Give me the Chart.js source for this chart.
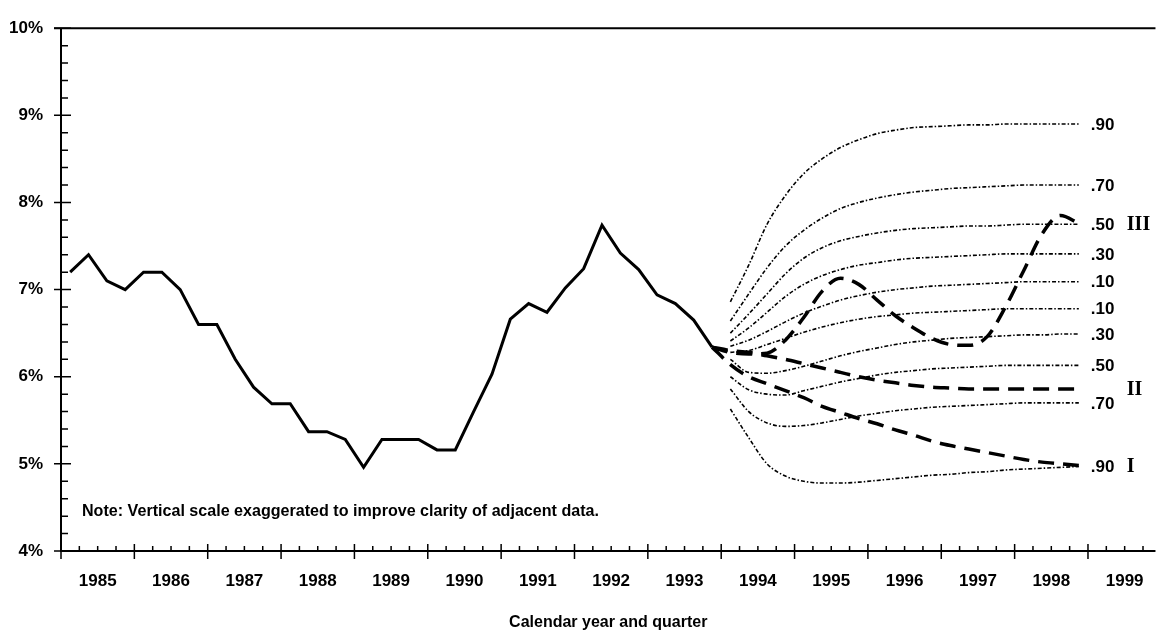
<!DOCTYPE html>
<html>
<head>
<meta charset="utf-8">
<script src="https://cdn.jsdelivr.net/npm/chart.js@4/dist/chart.umd.min.js"></script>
<style>
  html, body { margin: 0; padding: 0; background: #fff; }
</style>
</head>
<body>
<canvas id="chart" width="1163" height="634"></canvas>
<script>
// ---- data (percent, quarterly) ----
var yearLabels = ['1985', '1986', '1987', '1988', '1989', '1990', '1991', '1992', '1993', '1994', '1995', '1996', '1997', '1998', '1999'];
var yTickLabels = ['4%', '5%', '6%', '7%', '8%', '9%', '10%'];

// history 1985Q1 .. 1993Q4
var histRate = [7.2, 7.4, 7.1, 7.0, 7.2, 7.2, 7.0, 6.6, 6.6, 6.2, 5.88, 5.69,
                5.69, 5.37, 5.37, 5.28, 4.96, 5.28, 5.28, 5.28, 5.16, 5.16, 5.6, 6.03,
                6.66, 6.84, 6.74, 7.02, 7.24, 7.74, 7.42, 7.23, 6.94, 6.84, 6.65, 6.34];

// fractile fan 1994Q1 .. 1998Q4, top to bottom
var fan90hi = [6.86, 7.28, 7.75, 8.08, 8.33, 8.50, 8.63, 8.72, 8.79, 8.83, 8.86, 8.87, 8.88, 8.89, 8.89, 8.9, 8.9, 8.9, 8.9, 8.9];
var fan70hi = [6.64, 6.95, 7.25, 7.5, 7.68, 7.82, 7.93, 8.0, 8.05, 8.09, 8.12, 8.14, 8.16, 8.17, 8.18, 8.19, 8.2, 8.2, 8.2, 8.2];
var fan50hi = [6.5, 6.72, 6.95, 7.18, 7.36, 7.48, 7.56, 7.61, 7.65, 7.68, 7.70, 7.71, 7.72, 7.73, 7.73, 7.74, 7.75, 7.75, 7.75, 7.75];
var fan30hi = [6.41, 6.56, 6.74, 6.92, 7.06, 7.16, 7.23, 7.28, 7.31, 7.34, 7.36, 7.37, 7.38, 7.39, 7.40, 7.41, 7.41, 7.41, 7.41, 7.41];
var fan10hi = [6.35, 6.42, 6.52, 6.63, 6.73, 6.81, 6.88, 6.93, 6.97, 7.0, 7.02, 7.04, 7.05, 7.06, 7.07, 7.08, 7.09, 7.09, 7.09, 7.09];
var fan10lo = [6.28, 6.3, 6.37, 6.44, 6.51, 6.57, 6.62, 6.66, 6.69, 6.71, 6.73, 6.74, 6.75, 6.76, 6.77, 6.78, 6.78, 6.78, 6.78, 6.78];
var fan30lo = [6.2, 6.05, 6.04, 6.07, 6.12, 6.18, 6.24, 6.29, 6.33, 6.37, 6.40, 6.42, 6.44, 6.45, 6.46, 6.47, 6.48, 6.48, 6.49, 6.49];
var fan50lo = [6.0, 5.85, 5.8, 5.79, 5.84, 5.89, 5.94, 5.98, 6.02, 6.05, 6.07, 6.09, 6.10, 6.11, 6.12, 6.13, 6.13, 6.13, 6.13, 6.13];
var fan70lo = [5.86, 5.6, 5.47, 5.43, 5.44, 5.47, 5.51, 5.55, 5.58, 5.61, 5.63, 5.65, 5.66, 5.67, 5.68, 5.69, 5.70, 5.70, 5.70, 5.70];
var fan90lo = [5.63, 5.3, 5.0, 4.86, 4.8, 4.78, 4.78, 4.79, 4.81, 4.83, 4.85, 4.87, 4.88, 4.90, 4.91, 4.93, 4.94, 4.95, 4.96, 4.97];
var fanLabels = ['.90', '.70', '.50', '.30', '.10', '.10', '.30', '.50', '.70', '.90'];

// scenarios 1994Q1 .. 1998Q4 (joined to last history point)
var scenarioI   = [6.14, 6.0, 5.92, 5.84, 5.76, 5.66, 5.59, 5.52, 5.46, 5.39, 5.33, 5.26, 5.21, 5.17, 5.13, 5.09, 5.05, 5.02, 5.0, 4.98];
var scenarioII  = [6.3, 6.28, 6.24, 6.2, 6.15, 6.1, 6.05, 6.0, 5.96, 5.93, 5.9, 5.88, 5.87, 5.86, 5.86, 5.86, 5.86, 5.86, 5.86, 5.86];
var scenarioIII = [6.28, 6.26, 6.27, 6.42, 6.68, 6.98, 7.13, 7.06, 6.88, 6.7, 6.56, 6.44, 6.37, 6.36, 6.46, 6.8, 7.22, 7.64, 7.85, 7.76];
var scenarioLabels = ['I', 'II', 'III'];

var noteText = 'Note: Vertical scale exaggerated to improve clarity of adjacent data.';
var xTitle = 'Calendar year and quarter';

var SANS = "'Liberation Sans', Arial, sans-serif";
var SERIF = "'Liberation Serif', 'DejaVu Serif', serif";

// quarter midpoint on a year axis
function quarterPoints(startYear, values) {
    var pts = [];
    for (var i = 0; i < values.length; i++) {
        pts.push({x: startYear + (i + 0.5) / 4, y: values[i]});
    }
    return pts;
}

function scenarioPoints(values) {
    var pts = [{x: 1993 + 3.5 / 4, y: histRate[histRate.length - 1]}];
    return pts.concat(quarterPoints(1994, values));
}

var fans = [fan90hi, fan70hi, fan50hi, fan30hi, fan10hi, fan10lo, fan30lo, fan50lo, fan70lo, fan90lo];
var datasets = [];
fans.forEach(function(f, j) {
    datasets.push({
        label: 'fan' + j,
        data: quarterPoints(1994, f),
        borderColor: '#000',
        borderWidth: 1.6,
        borderDash: [4, 2, 1.5, 2],
        pointRadius: 0,
        cubicInterpolationMode: 'monotone',
        fill: false
    });
});
[scenarioI, scenarioII, scenarioIII].forEach(function(s, j) {
    datasets.push({
        label: 'scenario ' + scenarioLabels[j],
        data: scenarioPoints(s),
        borderColor: '#000',
        borderWidth: 3.5,
        borderDash: [16, 9],
        pointRadius: 0,
        cubicInterpolationMode: 'monotone',
        fill: false
    });
});
datasets.push({
    label: 'history',
    data: quarterPoints(1985, histRate),
    borderColor: '#000',
    borderWidth: 3,
    pointRadius: 0,
    tension: 0,
    fill: false
});

// axes, tick marks, right-hand labels and the note
var decorPlugin = {
    id: 'decor',
    afterDatasetsDraw: function(chart) {
        var ctx = chart.ctx;
        var area = chart.chartArea;
        var xs = chart.scales.x, ys = chart.scales.y;
        ctx.save();
        ctx.strokeStyle = '#000';
        ctx.lineWidth = 2;
        ctx.beginPath();
        ctx.moveTo(area.left, area.top);
        ctx.lineTo(area.left, area.bottom);
        ctx.lineTo(area.right, area.bottom);
        ctx.moveTo(area.left - 7, area.top);
        ctx.lineTo(area.right, area.top);
        ctx.stroke();

        ctx.lineWidth = 1.5;
        ctx.beginPath();
        ys.ticks.forEach(function(t) {
            var py = ys.getPixelForValue(t.value);
            var major = Math.abs(t.value - Math.round(t.value)) < 0.001;
            ctx.moveTo(area.left - (major ? 7 : 0), py);
            ctx.lineTo(area.left + (major ? 10 : 7), py);
        });
        xs.ticks.forEach(function(t) {
            var px = xs.getPixelForValue(t.value);
            var major = Math.abs(t.value - Math.round(t.value)) < 0.001;
            ctx.moveTo(px, area.bottom - (major ? 7 : 5));
            ctx.lineTo(px, area.bottom + (major ? 8 : 0));
        });
        ctx.stroke();

        // fractile labels at the end of each fan line
        ctx.fillStyle = '#000';
        ctx.textBaseline = 'middle';
        ctx.textAlign = 'left';
        ctx.font = 'bold 17px ' + SANS;
        for (var j = 0; j < fans.length; j++) {
            var pts = chart.getDatasetMeta(j).data;
            var last = pts[pts.length - 1];
            ctx.fillText(fanLabels[j], last.x + 12, last.y + 1);
        }
        // scenario numerals
        ctx.font = 'bold 20px ' + SERIF;
        for (var k = 0; k < 3; k++) {
            var sp = chart.getDatasetMeta(fans.length + k).data;
            var end = sp[sp.length - 1];
            ctx.fillText(scenarioLabels[k], end.x + 48, end.y + 1);
        }

        // note, fitted to its width in the original
        ctx.font = 'bold 16px ' + SANS;
        var w = ctx.measureText(noteText).width;
        var size = 16 * 518 / w;
        ctx.font = 'bold ' + size.toFixed(1) + 'px ' + SANS;
        ctx.fillText(noteText, area.left + 21, ys.getPixelForValue(4.45));
        ctx.restore();
    }
};

Chart.defaults.color = '#000';
Chart.defaults.font.family = SANS;
Chart.defaults.font.weight = 'bold';

var chart = new Chart(document.getElementById('chart').getContext('2d'), {
    type: 'line',
    data: {datasets: datasets},
    options: {
        responsive: false,
        animation: false,
        layout: {padding: {top: 25, right: 0, bottom: 0, left: 0}},
        plugins: {legend: {display: false}, tooltip: {enabled: false}},
        scales: {
            x: {
                type: 'linear',
                min: 1985,
                max: 1999.92,
                grid: {display: false, drawTicks: false},
                border: {display: false},
                ticks: {
                    stepSize: 0.25,
                    includeBounds: false,
                    autoSkip: false,
                    maxRotation: 0,
                    minRotation: 0,
                    padding: 20,
                    font: {size: 17, weight: 'bold'},
                    callback: function(value) {
                        var yr = Math.floor(value + 0.001);
                        if (Math.abs(value - yr - 0.5) < 0.01) {
                            return yearLabels[yr - 1985] || '';
                        }
                        return '';
                    }
                },
                title: {display: true, text: xTitle, font: {size: 16, weight: 'bold'}, padding: {top: 0, bottom: 2}},
                afterFit: function(scale) { scale.height = 83; }
            },
            y: {
                min: 4,
                max: 10,
                grid: {display: false, drawTicks: false},
                border: {display: false},
                ticks: {
                    stepSize: 0.2,
                    autoSkip: false,
                    padding: 18,
                    font: {size: 17, weight: 'bold'},
                    callback: function(value) {
                        if (Math.abs(value - Math.round(value)) < 0.001) {
                            return yTickLabels[Math.round(value) - 4];
                        }
                        return '';
                    }
                },
                afterFit: function(scale) { scale.width = 61; }
            }
        }
    },
    plugins: [decorPlugin]
});
</script>
</body>
</html>
